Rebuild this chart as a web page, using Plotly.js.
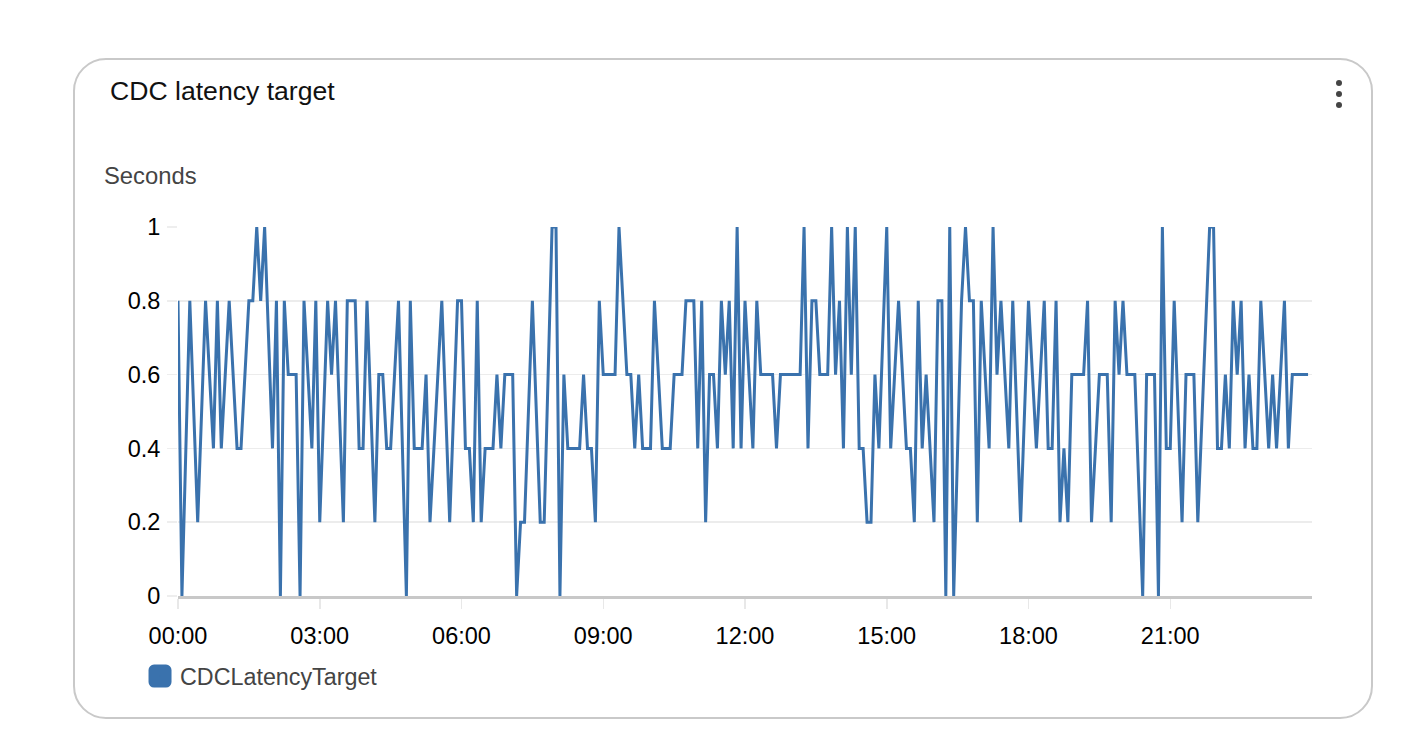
<!DOCTYPE html>
<html>
<head>
<meta charset="utf-8">
<script src="https://cdn.plot.ly/plotly-3.0.1.min.js"></script>
<style>
html,body{margin:0;padding:0;background:#fff;width:1426px;height:748px;overflow:hidden}
#card{position:absolute;left:73px;top:57.5px;width:1299.5px;height:661px;border:2px solid #c9c9c9;border-radius:33px;box-sizing:border-box;background:#fff}
.dot{position:absolute;left:1336.2px;width:6.2px;height:6.2px;border-radius:50%;background:#444}
#chart{position:absolute;left:0;top:0;width:1426px;height:748px}
#chart .legendlines{display:none}
#chart .legendpoints path{stroke:#3a72ad!important;stroke-width:11px!important;stroke-linejoin:round;fill:#3a72ad!important;opacity:1!important}
#chart .scatterlayer .points{display:none}
</style>
</head>
<body>
<div id="card"></div>
<div class="dot" style="top:80px"></div>
<div class="dot" style="top:91px"></div>
<div class="dot" style="top:102px"></div>
<div id="chart"></div>
<script>
// 5-minute slot number of every visible vertex of the line (slot * 5 = minutes after midnight)
const slots = [0,1,3,5,7,9,10,11,13,15,16,18,19,20,21,22,24,25,26,27,28,30,31,32,34,35,36,38,39,40,42,43,45,46,47,48,50,51,52,53,54,56,58,59,60,62,63,64,67,69,71,72,73,74,75,76,77,78,80,81,82,83,85,86,87,88,90,92,93,95,96,97,98,99,102,103,104,105,106,107,108,111,112,114,115,116,117,118,120,121,123,125,126,128,129,131,132,133,134,135,136,137,138,139,140,141,142,143,144,146,147,148,151,152,153,158,159,160,161,162,163,165,166,167,168,169,170,171,172,173,174,175,176,177,178,180,181,183,185,186,187,188,189,190,192,193,194,195,196,197,199,200,201,202,203,204,206,207,208,209,211,212,214,216,218,220,221,222,223,224,225,226,227,230,231,232,234,236,237,238,239,240,241,243,245,246,248,249,250,251,252,253,255,256,258,259,262,263,264,265,266,267,268,269,270,271,272,273,274,275,277,278,279,281,282,283,287];
const latency = [.8,0,.8,.2,.8,.4,.8,.4,.8,.4,.4,.8,.8,1,.8,1,.4,.8,0,.8,.6,.6,0,.8,.4,.8,.2,.8,.6,.8,.2,.8,.8,.4,.4,.8,.2,.6,.6,.4,.4,.8,0,.8,.4,.4,.6,.2,.8,.2,.8,.8,.4,.4,.2,.8,.2,.4,.4,.6,.4,.6,.6,0,.2,.2,.8,.2,.2,1,1,0,.6,.4,.4,.6,.4,.4,.2,.8,.6,.6,1,.6,.6,.4,.6,.4,.4,.8,.4,.4,.6,.6,.8,.8,.4,.8,.2,.6,.6,.4,.8,.6,.8,.4,1,.4,.8,.4,.8,.6,.6,.4,.6,.6,1,.4,.8,.8,.6,.6,1,.6,.8,.4,1,.6,1,.4,.4,.2,.2,.6,.4,1,.4,.8,.4,.4,.2,.8,.4,.6,.2,.8,.8,0,1,0,.8,1,.8,.8,.2,.8,.4,1,.6,.8,.4,.8,.2,.8,.4,.8,.4,.4,.8,.2,.4,.2,.6,.6,.8,.2,.6,.6,.2,.8,.6,.8,.6,.6,0,.6,.6,0,1,.4,.4,.8,.2,.6,.6,.2,1,1,.4,.4,.6,.4,.8,.6,.8,.4,.6,.4,.4,.8,.4,.6,.4,.8,.4,.6,.6];
const tickHours = [0,3,6,9,12,15,18,21];
const tickLabels = ["00:00","03:00","06:00","09:00","12:00","15:00","18:00","21:00"];
const valueTicks = [0,.2,.4,.6,.8,1];
const valueLabels = ["0","0.2","0.4","0.6","0.8","1"];
const seriesName = "CDCLatencyTarget";
const chartTitle = "CDC latency target";
const unitLabel = "Seconds";

const W=1426,H=748,L=178,R=1312.5,T=227,B=596.5;
const font="'Liberation Sans',Arial,sans-serif";
Plotly.newPlot('chart',[{
  x:slots.map(s=>s*5), y:latency, name:seriesName, type:'scatter', mode:'lines+markers',
  line:{color:'#3a72ad',width:3,shape:'linear'},
  marker:{color:'#3a72ad',size:12,symbol:'square',line:{color:'#3a72ad',width:2}},
  hoverinfo:'x+y', showlegend:true
}],{
  width:W,height:H,
  paper_bgcolor:'rgba(0,0,0,0)',plot_bgcolor:'rgba(0,0,0,0)',
  margin:{l:L,r:W-R,t:T,b:H-B,pad:0,autoexpand:false},
  font:{family:font,color:'#000'},
  title:{text:chartTitle,font:{family:font,size:26.6,color:'#111'},xref:'container',yref:'container',x:110/W,xanchor:'left',y:1-91/H,yanchor:'middle'},
  xaxis:{range:[0,1440],tickmode:'array',tickvals:tickHours.map(h=>h*60),ticktext:tickLabels,
    ticks:'outside',ticklen:10,tickcolor:'#e8e8e8',tickwidth:1.5,tickfont:{family:font,size:23.5,color:'#000'},ticklabelstandoff:7,
    showgrid:false,zeroline:false,showline:true,linecolor:'#c8c8c8',linewidth:2.5,fixedrange:true},
  yaxis:{range:[0,1],tickmode:'array',tickvals:valueTicks,ticktext:valueLabels,
    ticks:'outside',ticklen:10,tickcolor:'#eeeeee',tickwidth:1.5,tickfont:{family:font,size:23.5,color:'#000'},ticklabelstandoff:2,
    showgrid:true,gridcolor:'#ececec',gridwidth:1.5,zeroline:false,showline:false,fixedrange:true},
  showlegend:true,
  legend:{itemsizing:'constant',x:(140-L)/(R-L),xanchor:'left',y:-(677-B)/(B-T),yanchor:'middle',orientation:'h',
    bgcolor:'rgba(0,0,0,0)',borderwidth:0,font:{family:font,size:23.3,color:'#444'}},
  annotations:[{text:unitLabel,xref:'paper',yref:'paper',x:(103-L)/(R-L),y:(B-175)/(B-T),xanchor:'left',yanchor:'middle',showarrow:false,xshift:0,borderpad:0,font:{family:font,size:23.8,color:'#444'}}],
  hovermode:'closest'
},{displayModeBar:false,staticPlot:true});
</script>
</body>
</html>
